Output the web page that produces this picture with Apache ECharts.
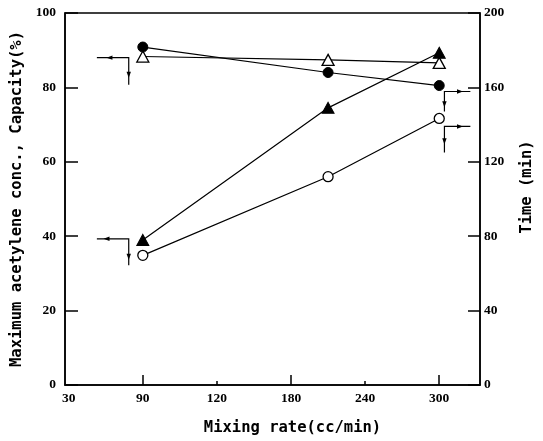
<!DOCTYPE html>
<html>
<head>
<meta charset="utf-8">
<title>Mixing rate</title>
<script src="https://cdn.jsdelivr.net/npm/echarts@6/dist/echarts.min.js"></script>
<style>
  html, body { margin: 0; padding: 0; background: #fff; }
  #chart { width: 543px; height: 441px; }
</style>
</head>
<body>
<div id="chart"></div>
<script>
// printed x tick labels (equally spaced on the original figure)
var xTickLabels = [30, 90, 120, 180, 240, 300];
var mixingRate = [90, 210, 300];

// left axis (%)
var concOpenTri = [88.3, 87.4, 86.6];
var capFilledTri = [39.0, 74.5, 89.3];
// right axis (min)
var timeFilledCircle = [181.7, 168, 161];
var timeOpenCircle = [69.7, 112, 143.3];

var leftTicks = [0, 20, 40, 60, 80, 100];
var rightTicks = [0, 40, 80, 120, 160, 200];

// position of a mixing rate on the printed axis (piecewise between labels)
function toIdx(v) {
  for (var i = 0; i < xTickLabels.length - 1; i++) {
    if (v <= xTickLabels[i + 1]) {
      return i + (v - xTickLabels[i]) / (xTickLabels[i + 1] - xTickLabels[i]);
    }
  }
  return xTickLabels.length - 1;
}
function pts(vals) {
  return mixingRate.map(function (x, i) { return [toIdx(x), vals[i]]; });
}

var tickFont = { fontFamily: 'Liberation Serif', fontWeight: 'bold', fontSize: 13.5, color: '#000' };
var nameFont = { fontFamily: 'DejaVu Sans Mono', fontWeight: 'bold', fontSize: 15.5, color: '#000' };
var lineSty = { color: '#000', width: 1.2 };

var chart = echarts.init(document.getElementById('chart'));
var option = {
  animation: false,
  backgroundColor: '#fff',
  grid: { left: 65, right: 61, top: 13, bottom: 54, show: true, borderColor: '#000', borderWidth: 1.5, backgroundColor: 'transparent' },
  xAxis: [{
    type: 'value', min: -0.05, max: 5.55,
    name: 'Mixing rate(cc/min)', nameLocation: 'middle', nameGap: 35,
    nameTextStyle: Object.assign({ padding: [0, 0, 0, 40] }, nameFont),
    axisLine: { onZero: false, lineStyle: { color: '#000', width: 1.5 } },
    axisTick: { inside: true, length: 10, customValues: [1, 3, 5], lineStyle: { color: '#000', width: 1.5 } },
    axisLabel: { customValues: [0, 1, 2, 3, 4, 5], margin: 7, formatter: function (v) { return String(xTickLabels[Math.round(v)]); }, ...tickFont },
    splitLine: { show: false }
  }, {
    type: 'value', min: -0.05, max: 5.55, position: 'bottom',
    axisLine: { show: false, onZero: false },
    axisTick: { inside: true, length: 4, customValues: [2, 4], lineStyle: { color: '#000', width: 1.5 } },
    axisLabel: { show: false },
    splitLine: { show: false }
  }],
  yAxis: [{
    type: 'value', min: 0, max: 100, interval: 20, position: 'left',
    name: 'Maximum acetylene conc., Capacity(%)', nameLocation: 'middle', nameGap: 36, nameRotate: 90,
    nameTextStyle: nameFont,
    axisLine: { show: true, onZero: false, lineStyle: { color: '#000', width: 1.5 } },
    axisTick: { inside: true, length: 13, lineStyle: { color: '#000', width: 1.5 } },
    axisLabel: { margin: 9, formatter: function (v) { return leftTicks.indexOf(v) >= 0 ? String(v) : ''; }, ...tickFont },
    splitLine: { show: false }
  }, {
    type: 'value', min: 0, max: 200, interval: 40, position: 'right',
    name: 'Time (min)', nameLocation: 'middle', nameGap: 39, nameRotate: 90,
    nameTextStyle: Object.assign({ padding: [0, 0, 0, 24] }, nameFont),
    axisLine: { show: true, onZero: false, lineStyle: { color: '#000', width: 1.5 } },
    axisTick: { inside: true, length: 12, lineStyle: { color: '#000', width: 1.5 } },
    axisLabel: { margin: 4, formatter: function (v) { return rightTicks.indexOf(v) >= 0 ? String(v) : ''; }, ...tickFont },
    splitLine: { show: false }
  }],
  series: [{
    name: 'conc', type: 'line', yAxisIndex: 0, data: pts(concOpenTri),
    symbol: 'triangle', symbolSize: [12, 11], showAllSymbol: true,
    lineStyle: lineSty, itemStyle: { color: '#fff', borderColor: '#000', borderWidth: 1.3 }, z: 3
  }, {
    name: 'capacity', type: 'line', yAxisIndex: 0, data: pts(capFilledTri),
    symbol: 'triangle', symbolSize: [12, 11],
    lineStyle: lineSty, itemStyle: { color: '#000', borderColor: '#000', borderWidth: 1 }, z: 3
  }, {
    name: 'time1', type: 'line', yAxisIndex: 1, data: pts(timeFilledCircle),
    symbol: 'circle', symbolSize: 10,
    lineStyle: lineSty, itemStyle: { color: '#000', borderColor: '#000', borderWidth: 1 }, z: 3
  }, {
    name: 'time2', type: 'line', yAxisIndex: 1, data: pts(timeOpenCircle),
    symbol: 'circle', symbolSize: 10,
    lineStyle: lineSty, itemStyle: { color: '#fff', borderColor: '#000', borderWidth: 1.3 }, z: 3
  }]
};
chart.setOption(option);

// axis pointer arrows (elbow lines with small heads)
// each: axis index, polyline in [x index, value], heads [x, value, direction]
var arrows = [
  { y: 0, line: [[0.38, 88.0], [0.81, 88.0], [0.81, 80.7]], heads: [[0.55, 88.0, 'left'], [0.81, 83.4, 'down']] },
  { y: 0, line: [[0.38, 39.3], [0.81, 39.3], [0.81, 32.2]], heads: [[0.51, 39.3, 'left'], [0.81, 34.5, 'down']] },
  { y: 1, line: [[5.42, 157.8], [5.07, 157.8], [5.07, 147]], heads: [[5.28, 157.8, 'right'], [5.07, 151, 'down']] },
  { y: 1, line: [[5.42, 139], [5.07, 139], [5.07, 125]], heads: [[5.28, 139, 'right'], [5.07, 131, 'down']] }
];
var graphics = [];
arrows.forEach(function (a) {
  var p = a.line.map(function (q) { return chart.convertToPixel({ xAxisIndex: 0, yAxisIndex: a.y }, q); });
  graphics.push({ type: 'polyline', shape: { points: p }, style: { stroke: '#000', lineWidth: 1.2, fill: null }, z: 5 });
  a.heads.forEach(function (h) {
    var c = chart.convertToPixel({ xAxisIndex: 0, yAxisIndex: a.y }, [h[0], h[1]]);
    var L = 6, W = 2.2, tri;
    if (h[2] === 'left') tri = [[c[0] - L / 2, c[1]], [c[0] + L / 2, c[1] - W], [c[0] + L / 2, c[1] + W]];
    else if (h[2] === 'right') tri = [[c[0] + L / 2, c[1]], [c[0] - L / 2, c[1] - W], [c[0] - L / 2, c[1] + W]];
    else tri = [[c[0], c[1] + L / 2], [c[0] - W, c[1] - L / 2], [c[0] + W, c[1] - L / 2]];
    graphics.push({ type: 'polygon', shape: { points: tri }, style: { fill: '#000' }, z: 5 });
  });
});
chart.setOption({ graphic: graphics });
</script>
</body>
</html>
